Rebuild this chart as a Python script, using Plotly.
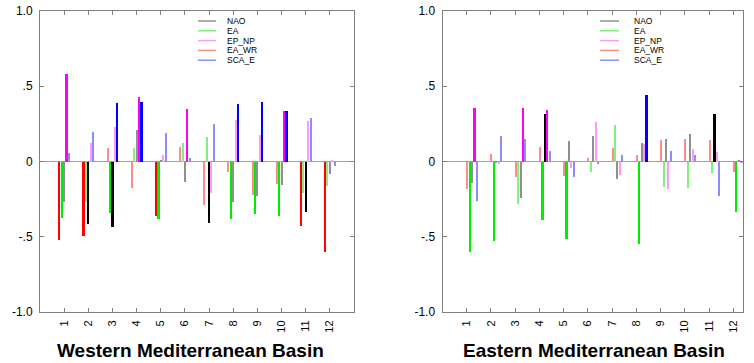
import plotly.graph_objects as go

W, H = 754, 363

months = list(range(1, 13))
month_labels = [str(m) for m in months]
series_names = ["NAO", "EA", "EP_NP", "EA_WR", "SCA_E"]

# ---- Western Mediterranean Basin ----
west_nao = [-0.27, -0.417, -0.433, 0.21, 0.01, -0.137, -0.41, -0.27, -0.23, -0.157, -0.336, -0.086]
west_nao_sig = [0, 1, 1, 0, 0, 0, 1, 0, 0, 0, 1, 0]
west_ea = [-0.377, -0.27, -0.34, 0.093, -0.38, 0.124, 0.161, -0.384, -0.351, -0.362, -0.207, -0.163]
west_ea_sig = [1, 0, 1, 0, 1, 0, 0, 1, 1, 1, 0, 0]
west_epnp = [0.583, 0.124, 0.232, 0.426, 0.046, 0.349, -0.212, 0.278, 0.179, 0.338, 0.267, 0.006]
west_epnp_sig = [1, 0, 0, 1, 0, 1, 0, 0, 0, 1, 0, 0]
west_eawr = [-0.523, -0.497, 0.093, -0.179, -0.362, 0.095, -0.291, -0.068, -0.223, -0.152, -0.428, -0.598]
west_eawr_sig = [1, 1, 0, 0, 1, 0, 0, 0, 0, 0, 1, 1]
west_scae = [0.055, 0.196, 0.39, 0.395, 0.192, 0.02, 0.252, 0.382, 0.397, 0.338, 0.291, -0.031]
west_scae_sig = [0, 0, 1, 1, 0, 0, 0, 1, 1, 1, 0, 0]

# ---- Eastern Mediterranean Basin ----
east_nao = [-0.141, -0.01, -0.245, 0.318, 0.137, 0.172, -0.115, 0.121, 0.148, 0.185, 0.318, 0.006]
east_nao_sig = [0, 0, 0, 1, 0, 0, 0, 0, 0, 0, 1, 0]
east_ea = [-0.598, -0.528, -0.283, -0.389, -0.517, -0.071, 0.241, -0.545, -0.17, -0.179, -0.075, -0.336]
east_ea_sig = [1, 1, 0, 1, 1, 0, 0, 1, 0, 0, 0, 1]
east_epnp = [0.353, -0.018, 0.355, 0.342, -0.046, 0.265, -0.09, 0.117, -0.181, 0.084, 0.06, -0.006]
east_epnp_sig = [1, 0, 1, 1, 0, 0, 0, 0, 0, 0, 0, 0]
east_eawr = [-0.181, 0.051, -0.104, 0.099, -0.099, 0.026, 0.093, 0.042, 0.143, 0.152, 0.146, -0.071]
east_eawr_sig = [0, 0, 0, 0, 0, 0, 0, 0, 0, 0, 0, 0]
east_scae = [-0.265, 0.172, 0.148, 0.068, -0.10, -0.018, 0.042, 0.444, 0.073, 0.042, -0.23, -0.006]
east_scae_sig = [0, 0, 0, 0, 0, 0, 0, 1, 0, 0, 0, 0]

ytick_vals = [-1.0, -0.5, 0.0, 0.5, 1.0]
ytick_text = ["-1.0", "-.5", "0", ".5", "1.0"]

panel_titles = ["Western Mediterranean Basin", "Eastern Mediterranean Basin"]

# styling
strong_colors = {"NAO": "#000000", "EA": "#00ee00", "EP_NP": "#ff00ff", "EA_WR": "#ff0000", "SCA_E": "#0000ff"}
light_colors = {"NAO": "#909090", "EA": "#80f080", "EP_NP": "#ff99ff", "EA_WR": "#ff8c8c", "SCA_E": "#8c8cff"}
order_pos = {"EA_WR": 0, "EA": 1, "NAO": 2, "EP_NP": 3, "SCA_E": 4}
THICK, THIN = 0.095, 0.042
FONT = "Liberation Sans, Arial, sans-serif"

panels = [
    {"data": {"NAO": (west_nao, west_nao_sig), "EA": (west_ea, west_ea_sig),
              "EP_NP": (west_epnp, west_epnp_sig), "EA_WR": (west_eawr, west_eawr_sig),
              "SCA_E": (west_scae, west_scae_sig)},
     "start": -0.2, "xref": "x", "yref": "y",
     "px": (40, 354), "xrange": [0, 13], "legend_px": (198, 216, 225), "title_cx": 190},
    {"data": {"NAO": (east_nao, east_nao_sig), "EA": (east_ea, east_ea_sig),
              "EP_NP": (east_epnp, east_epnp_sig), "EA_WR": (east_eawr, east_eawr_sig),
              "SCA_E": (east_scae, east_scae_sig)},
     "start": 0.0, "xref": "x2", "yref": "y2",
     "px": (442.5, 743), "xrange": [0, 12.4], "legend_px": (600, 619, 632), "title_cx": 594},
]

top_px, bot_px = 11, 312
ydom = [1 - bot_px / H, 1 - top_px / H]

fig = go.Figure()
shapes = []
annotations = []

for pi, p in enumerate(panels):
    for name in series_names:
        vals, sig = p["data"][name]
        center = p["start"] + 0.1 * order_pos[name]
        widths = [THICK if s else THIN for s in sig]
        offsets = [center - w / 2 for w in widths]
        colors = [strong_colors[name] if s else light_colors[name] for s in sig]
        fig.add_trace(go.Bar(
            x=months, y=vals, width=widths, offset=offsets,
            marker=dict(color=colors, line=dict(width=0)),
            xaxis=p["xref"], yaxis=p["yref"], showlegend=False, name=name,
        ))
    # legend (line samples + text)
    lx0, lx1, tx = p["legend_px"]
    row_y = [21, 30.8, 40.6, 50.4, 60.2]
    for i, name in enumerate(series_names):
        yy = 1 - row_y[i] / H
        shapes.append(dict(type="line", xref="paper", yref="paper",
                           x0=lx0 / W, x1=lx1 / W, y0=yy, y1=yy,
                           line=dict(color=light_colors[name], width=1.5)))
        annotations.append(dict(text=name, xref="paper", yref="paper", x=tx / W, y=yy,
                                xanchor="left", yanchor="middle", showarrow=False,
                                font=dict(family=FONT, size=8.5, color="#000000")))
    # panel title
    annotations.append(dict(text="<b>" + panel_titles[pi] + "</b>", xref="paper", yref="paper",
                            x=p["title_cx"] / W, y=1 - 350 / H, xanchor="center", yanchor="middle",
                            showarrow=False, font=dict(family=FONT, size=19, color="#000000")))

axis_common = dict(showline=True, linecolor="#808080", linewidth=1, mirror="allticks",
                   ticks="inside", tickcolor="#808080", ticklen=4, showgrid=False,
                   automargin=False,
                   tickfont=dict(family=FONT, size=11, color="#000000"))

layout = dict(
    width=W, height=H, margin=dict(l=0, r=0, t=0, b=0),
    paper_bgcolor="white", plot_bgcolor="white", barmode="overlay", bargap=0,
    showlegend=False, shapes=shapes, annotations=annotations,
)
for pi, p in enumerate(panels):
    sx = "" if pi == 0 else "2"
    layout["xaxis" + sx] = dict(
        axis_common, domain=[p["px"][0] / W, p["px"][1] / W], range=p["xrange"],
        tickmode="array", tickvals=months, ticktext=month_labels, tickangle=-90,
        anchor="y" + sx, zeroline=False, ticklabelstandoff=3,
    )
    layout["yaxis" + sx] = dict(
        axis_common, domain=ydom, range=[-1, 1], tickmode="array",
        tickvals=ytick_vals, ticktext=ytick_text, anchor="x" + sx,
        zeroline=True, zerolinecolor="#a0a0a0", zerolinewidth=1, ticklabelstandoff=4,
        tickfont=dict(family=FONT, size=12, color="#000000"),
    )

fig.update_layout(**layout)
fig.write_html("out.html", config={"displayModeBar": False},
               post_script="document.body.style.margin='0';document.body.style.overflow='hidden';")
